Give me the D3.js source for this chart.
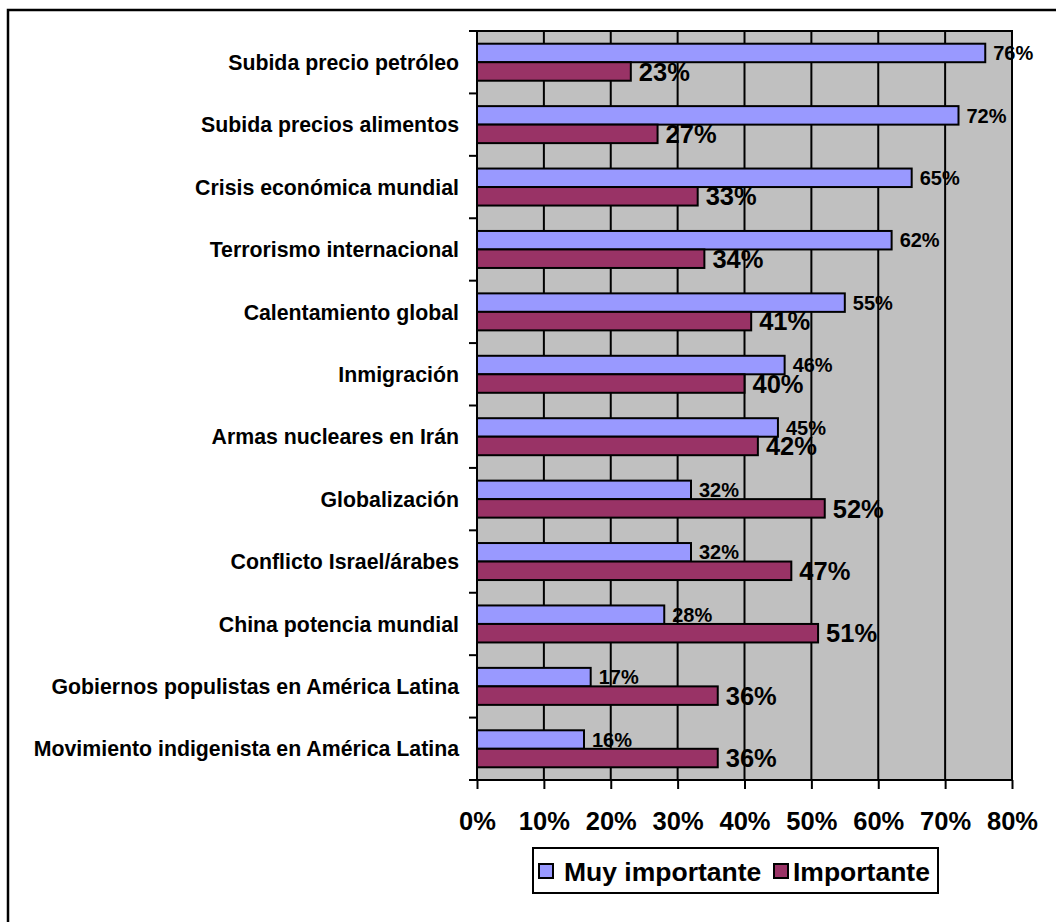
<!DOCTYPE html>
<html><head><meta charset="utf-8">
<script src="https://cdn.jsdelivr.net/npm/d3@7"></script>
<style>body{margin:0;background:#fff}svg{display:block}text{font-family:Arial,"Liberation Sans",sans-serif;font-weight:bold;fill:#000}</style>
</head><body><svg id="c" width="1056" height="922"></svg>
<script>
const categories = ["Subida precio petróleo","Subida precios alimentos","Crisis económica mundial","Terrorismo internacional","Calentamiento global","Inmigración","Armas nucleares en Irán","Globalización","Conflicto Israel/árabes","China potencia mundial","Gobiernos populistas en América Latina","Movimiento indigenista en América Latina"];
const muyImportante = [76,72,65,62,55,46,45,32,32,28,17,16];
const importante = [23,27,33,34,41,40,42,52,47,51,36,36];
const xTicks = [0,10,20,30,40,50,60,70,80];
const seriesNames = ["Muy importante","Importante"];
const colors = ["#9999FF","#993366"];

const svg = d3.select("#c");
const L=477, R=1012, T=31, B=780;
svg.append("rect").attr("x",8).attr("y",10).attr("width",1070).attr("height",940).attr("fill","#fff").attr("stroke","#000").attr("stroke-width",2.5);
svg.append("rect").attr("x",L).attr("y",T).attr("width",R-L).attr("height",B-T).attr("fill","#C0C0C0");

const x = d3.scaleLinear().domain([0,80]).range([L,R]);
const y = d3.scaleBand().domain(categories).range([T,B]).paddingInner(0).paddingOuter(0);
const bandH = y.bandwidth();
const groupH = 37;
const inner = d3.scaleBand().domain(seriesNames).range([(bandH-groupH)/2,(bandH+groupH)/2]);

svg.append("g").selectAll("line").data(xTicks.filter(d=>d>0&&d<80)).join("line")
  .attr("x1",d=>x(d)).attr("x2",d=>x(d)).attr("y1",T).attr("y2",B).attr("stroke","#000").attr("stroke-width",2);

const data = categories.map((c,i)=>({c, v:[muyImportante[i],importante[i]]}));
const g = svg.append("g");
seriesNames.forEach((s,si)=>{
  g.selectAll(".b"+si).data(data).join("rect")
    .attr("x",x(0)).attr("y",d=>y(d.c)+inner(s)).attr("width",d=>x(d.v[si])-x(0)).attr("height",inner.bandwidth())
    .attr("fill",colors[si]).attr("stroke","#000").attr("stroke-width",2);
});
const fs=[20,25.5];
seriesNames.forEach((s,si)=>{
  g.selectAll(".t"+si).data(data).join("text")
    .attr("x",d=>x(d.v[si])+8).attr("y",d=>y(d.c)+inner(s)+inner.bandwidth()/2+fs[si]*0.36)
    .attr("font-size",fs[si]).text(d=>d.v[si]+"%");
});

svg.append("rect").attr("x",L).attr("y",T).attr("width",R-L).attr("height",B-T).attr("fill","none").attr("stroke","#000").attr("stroke-width",2);

const ya = svg.append("g").attr("transform",`translate(${L},0)`).call(d3.axisLeft(y).tickSize(0).tickPadding(18));
ya.select(".domain").remove();
ya.selectAll("text").attr("font-size",21.3).attr("font-family",null).attr("dy","0.36em");
svg.append("g").selectAll("line").data(d3.range(categories.length+1)).join("line")
  .attr("x1",L-8).attr("x2",L).attr("y1",i=>T+i*bandH).attr("y2",i=>T+i*bandH).attr("stroke","#000").attr("stroke-width",2);

const xa = svg.append("g").attr("transform",`translate(0,${B})`).call(d3.axisBottom(x).tickValues(xTicks).tickFormat(d=>d+"%").tickSize(9).tickPadding(23));
xa.select(".domain").remove();
xa.selectAll("line").attr("stroke","#000").attr("stroke-width",2);
xa.selectAll("text").attr("font-size",25.5).attr("font-family",null);

const lg = svg.append("g");
lg.append("rect").attr("x",533).attr("y",848).attr("width",405).attr("height",45).attr("fill","#fff").attr("stroke","#000").attr("stroke-width",2);
const lx=[539,774], tx=[564,793];
seriesNames.forEach((s,i)=>{
  lg.append("rect").attr("x",lx[i]).attr("y",864).attr("width",14).attr("height",14).attr("fill",colors[i]).attr("stroke","#000").attr("stroke-width",2);
  lg.append("text").attr("x",tx[i]).attr("y",871+26.5*0.36).attr("font-size",26.5).text(s);
});
</script></body></html>
